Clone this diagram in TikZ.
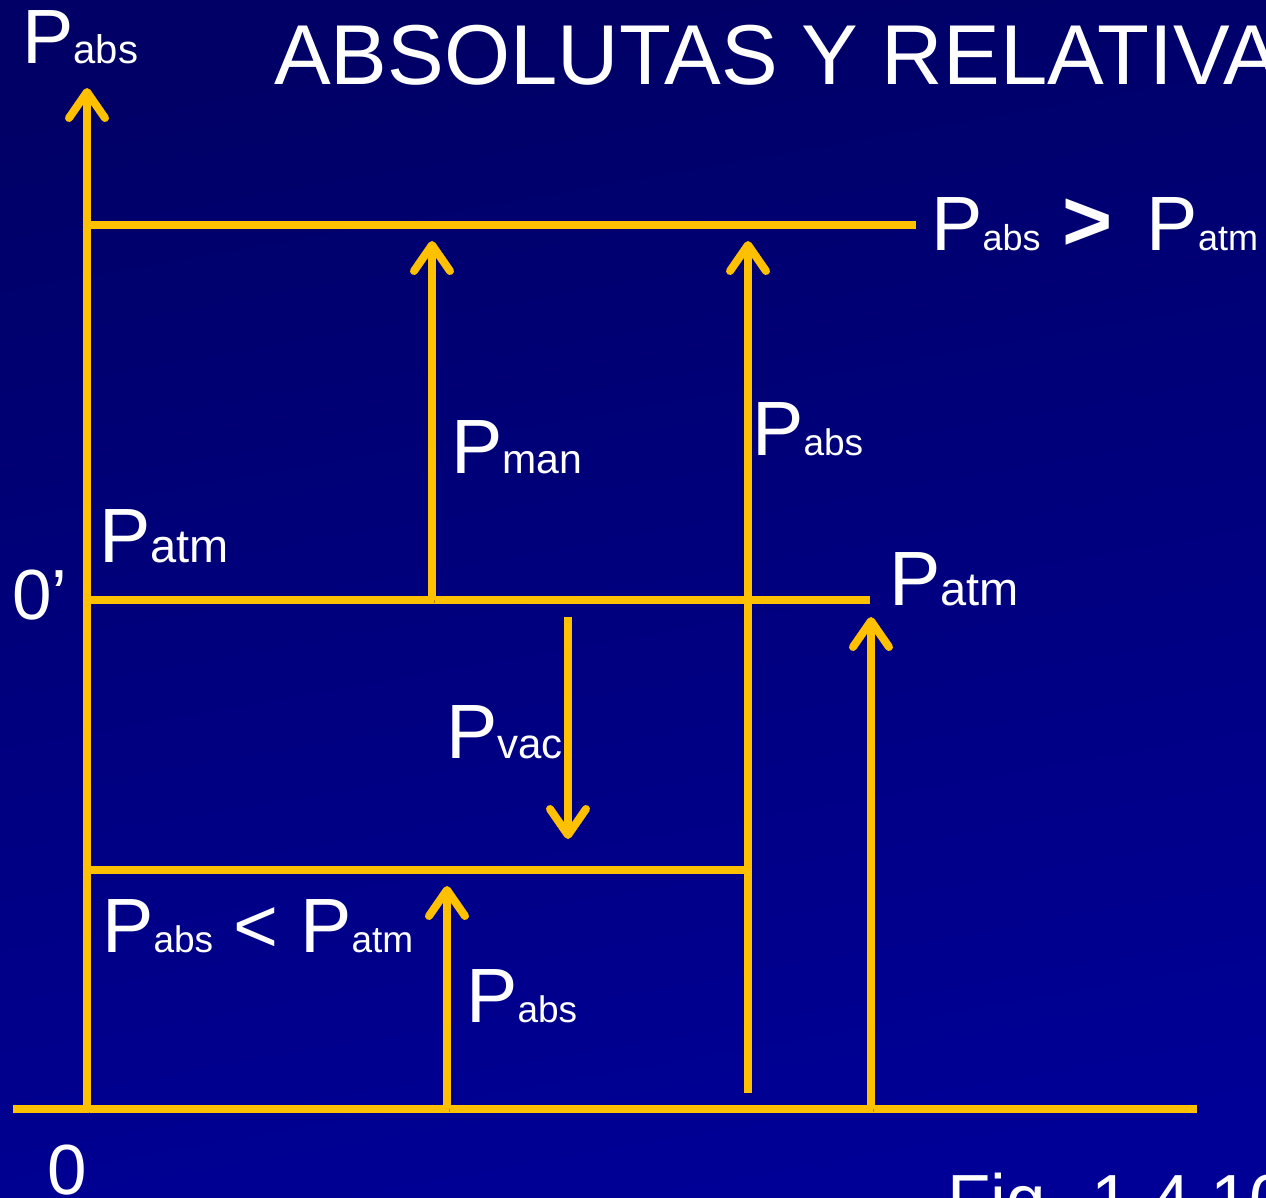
\documentclass[tikz,border=0pt]{standalone}
\usepackage{fontspec}
\setmainfont{Liberation Sans}
\usetikzlibrary{arrows.meta}
\definecolor{bgtop}{RGB}{0,0,102}
\definecolor{bgbot}{RGB}{0,0,150}
\definecolor{gold}{RGB}{255,192,0}
\newcommand{\bigP}{\fontsize{77}{80}\selectfont}
\newcommand{\lbl}[3]{{\bigP #1}{\fontsize{#3}{#3}\selectfont #2}}
\tikzset{
  goldline/.style={draw=gold,line width=8pt,line cap=butt,
    preaction={draw=black,opacity=0.3,transform canvas={shift={(2pt,-3pt)}}}},
  goldarrow/.style={goldline,-{Straight Barb[length=26pt,width=36pt,line cap=round,line join=round]}},
  txt/.style={text=white,inner sep=0pt,anchor=base west},
}
\begin{document}
\begin{tikzpicture}[x=1pt,y=-1pt]
\useasboundingbox (0,0) rectangle (1266,1197);
\shade[top color=bgtop,bottom color=bgbot,shading angle=10] (0,0) rectangle (1266,1197);

% coordinates
\coordinate (axB) at (87,1112);
\coordinate (axT) at (87,88);
\coordinate (bL) at (13,1109);
\coordinate (bR) at (1197,1109);
\coordinate (tL) at (91,225);
\coordinate (tR) at (916,225);
\coordinate (mL) at (91,600);
\coordinate (mR) at (870,600);
\coordinate (lL) at (91,870);
\coordinate (lR) at (752,870);
\coordinate (manB) at (432,600);
\coordinate (manT) at (432,241);
\coordinate (absB) at (748,1093);
\coordinate (absT) at (748,241);
\coordinate (atmB) at (871,1109);
\coordinate (atmT) at (871,617);
\coordinate (vacT) at (568,617);
\coordinate (vacB) at (568,839);
\coordinate (lowB) at (447,1109);
\coordinate (lowT) at (447,886);

% lines
\draw[goldline] (bL) -- (bR);
\draw[goldline] (tL) -- (tR);
\draw[goldline] (mL) -- (mR);
\draw[goldline] (lL) -- (lR);
\draw[goldarrow] (axB) -- (axT);
\draw[goldarrow] (manB) -- (manT);
\draw[goldarrow] (absB) -- (absT);
\draw[goldarrow] (atmB) -- (atmT);
\draw[goldarrow] (vacT) -- (vacB);
\draw[goldarrow] (lowB) -- (lowT);

% texts
\node[txt] (ylab) at (22,63) {\lbl{P}{abs}{40}};
\node[txt] (title) at (274,84) {\fontsize{85}{88}\selectfont ABSOLUTAS Y RELATIVA};
\node[txt] (gt) at (931,250) {\lbl{P}{abs}{36}\hspace{22pt}{\fontsize{86}{86}\selectfont\bfseries >}\hspace{34pt}\lbl{P}{atm}{36}};
\node[txt] (pman) at (451,473) {\lbl{P}{man}{41}};
\node[txt] (pabsm) at (752,455) {\lbl{P}{abs}{37}};
\node[txt] (patmL) at (99,562) {\lbl{P}{atm}{47}};
\node[txt] (patmR) at (889,605) {\lbl{P}{atm}{47}};
\node[txt] (zerop) at (12,619) {\fontsize{71}{74}\selectfont 0’};
\node[txt] (pvac) at (446,758) {\lbl{P}{vac}{42}};
\node[txt] (lt) at (102,952) {\lbl{P}{abs}{37}\hspace{20pt}{\bigP <}\hspace{22pt}\lbl{P}{atm}{37}};
\node[txt] (pabsl) at (466,1022) {\lbl{P}{abs}{37}};
\node[txt] (zero) at (47,1194) {\fontsize{71}{74}\selectfont 0};
\node[txt] (fig) at (947,1224) {\fontsize{71}{74}\selectfont Fig. 1.4.10};
\end{tikzpicture}
\end{document}
